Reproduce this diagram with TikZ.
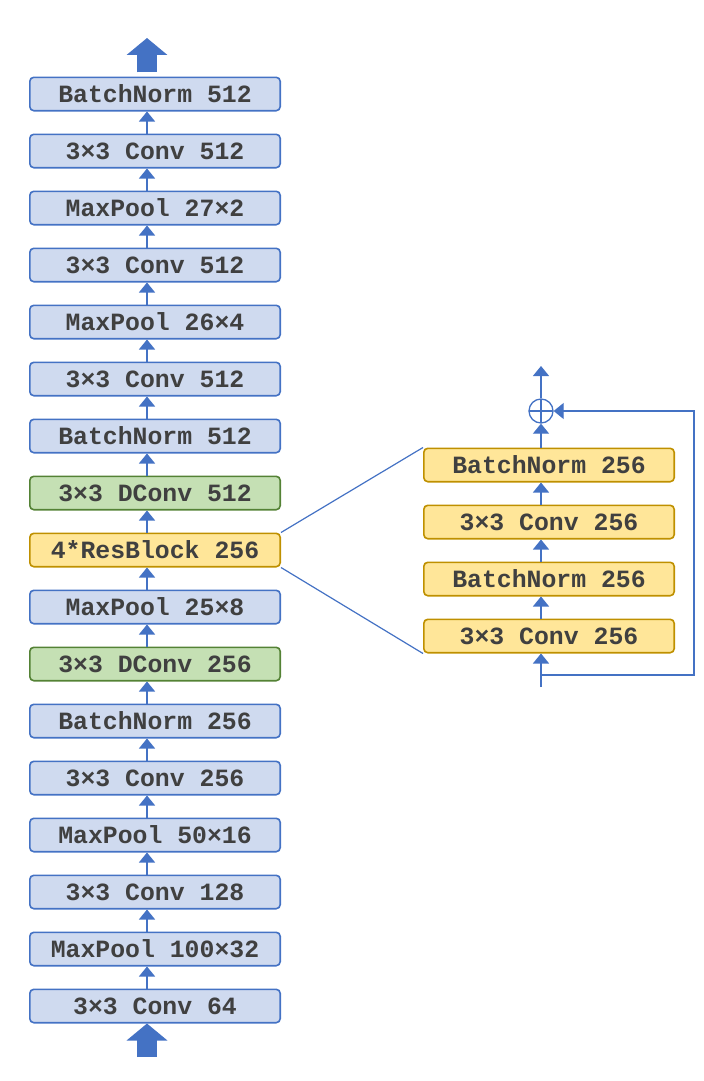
\documentclass[tikz,border=0pt]{standalone}
\usepackage{fontspec}
\newfontfamily\fontecamada{Liberation Mono}
\usetikzlibrary{arrows.meta,positioning}
\definecolor{azulescuro}{HTML}{4472C4}
\definecolor{azulclaro}{HTML}{CFDAEF}
\definecolor{verdeescuro}{HTML}{548235}
\definecolor{verdeclaro}{HTML}{C5E0B4}
\definecolor{amareloescuro}{HTML}{BF9000}
\definecolor{amareloclaro}{HTML}{FFE699}
\definecolor{texto}{HTML}{404040}
\tikzset{
  camada/.style={rectangle,rounded corners=2pt,draw=azulescuro,fill=azulclaro,line width=0.8pt,
    minimum width=125.2pt,minimum height=16.7pt,inner sep=0pt,text=texto,
    font=\fontecamada\bfseries\fontsize{12.4}{14}\selectfont},
  dconv/.style={camada,draw=verdeescuro,fill=verdeclaro},
  resbloco/.style={camada,draw=amareloescuro,fill=amareloclaro},
  soma/.style={circle,draw=azulescuro,line width=0.65pt,minimum size=12pt,inner sep=0pt,
    path picture={\draw[azulescuro,line width=0.65pt]
      (path picture bounding box.north) -- (path picture bounding box.south)
      (path picture bounding box.west) -- (path picture bounding box.east);}},
  seta/.style={-{Triangle[width=8pt,length=5pt]},line width=0.6pt,azulescuro},
  setagrossa/.style={-{Triangle[width=20pt,length=8.5pt]},line width=10pt,azulescuro},
  linha/.style={line width=0.6pt,azulescuro}
}

\begin{document}
\begin{tikzpicture}[x=0.5pt,y=-0.5pt,node distance=11pt]
\useasboundingbox (0,0) rectangle (704,1081);
% coluna principal
\node[camada] (conv64) at (155,1006) {3×3 Conv 64};
\node[camada,above=of conv64] (pool100) {MaxPool 100×32};
\node[camada,above=of pool100] (conv128) {3×3 Conv 128};
\node[camada,above=of conv128] (pool50) {MaxPool 50×16};
\node[camada,above=of pool50] (conv256) {3×3 Conv 256};
\node[camada,above=of conv256] (bn256) {BatchNorm 256};
\node[dconv,above=of bn256] (dconv256) {3×3 DConv 256};
\node[camada,above=of dconv256] (pool25) {MaxPool 25×8};
\node[resbloco,above=of pool25] (res) {4*ResBlock 256};
\node[dconv,above=of res] (dconv512) {3×3 DConv 512};
\node[camada,above=of dconv512] (bn512a) {BatchNorm 512};
\node[camada,above=of bn512a] (conv512a) {3×3 Conv 512};
\node[camada,above=of conv512a] (pool26) {MaxPool 26×4};
\node[camada,above=of pool26] (conv512b) {3×3 Conv 512};
\node[camada,above=of conv512b] (pool27) {MaxPool 27×2};
\node[camada,above=of pool27] (conv512c) {3×3 Conv 512};
\node[camada,above=of conv512c] (bn512b) {BatchNorm 512};
\foreach \a/\b in {conv64/pool100,pool100/conv128,conv128/pool50,pool50/conv256,
    conv256/bn256,bn256/dconv256,dconv256/pool25,pool25/res,res/dconv512,
    dconv512/bn512a,bn512a/conv512a,conv512a/pool26,pool26/conv512b,
    conv512b/pool27,pool27/conv512c,conv512c/bn512b}
  \draw[seta] ([xshift=-4pt]\a.north) -- ([xshift=-4pt]\b.south);
\coordinate (entrada) at (147,1057);
\coordinate (saida) at (147,38);
\draw[setagrossa] (entrada) -- ([xshift=-4pt]conv64.south);
\draw[setagrossa] ([xshift=-4pt,yshift=2pt]bn512b.north) -- (saida);

% bloco residual
\node[resbloco] (rconv1) at (549,636) {3×3 Conv 256};
\node[resbloco,above=of rconv1] (rbn1) {BatchNorm 256};
\node[resbloco,above=of rbn1] (rconv2) {3×3 Conv 256};
\node[resbloco,above=of rconv2] (rbn2) {BatchNorm 256};
\node[soma] (mais) at (541,411) {};
\coordinate (resin) at (541,687);
\coordinate (ramo) at (541,675);
\coordinate (volta) at (694,675);
\coordinate (resout) at (541,366);
\draw[seta] (resin) -- ([xshift=-4pt]rconv1.south);
\foreach \a/\b in {rconv1/rbn1,rbn1/rconv2,rconv2/rbn2}
  \draw[seta] ([xshift=-4pt]\a.north) -- ([xshift=-4pt]\b.south);
\draw[seta] ([xshift=-4pt]rbn2.north) -- (mais);
\draw[seta] (mais) -- (resout);
\draw[seta] (ramo) -- (volta) |- (mais);
\draw[linha] (res.north east) -- (rbn2.north west);
\draw[linha] (res.south east) -- (rconv1.south west);
\end{tikzpicture}
\end{document}
